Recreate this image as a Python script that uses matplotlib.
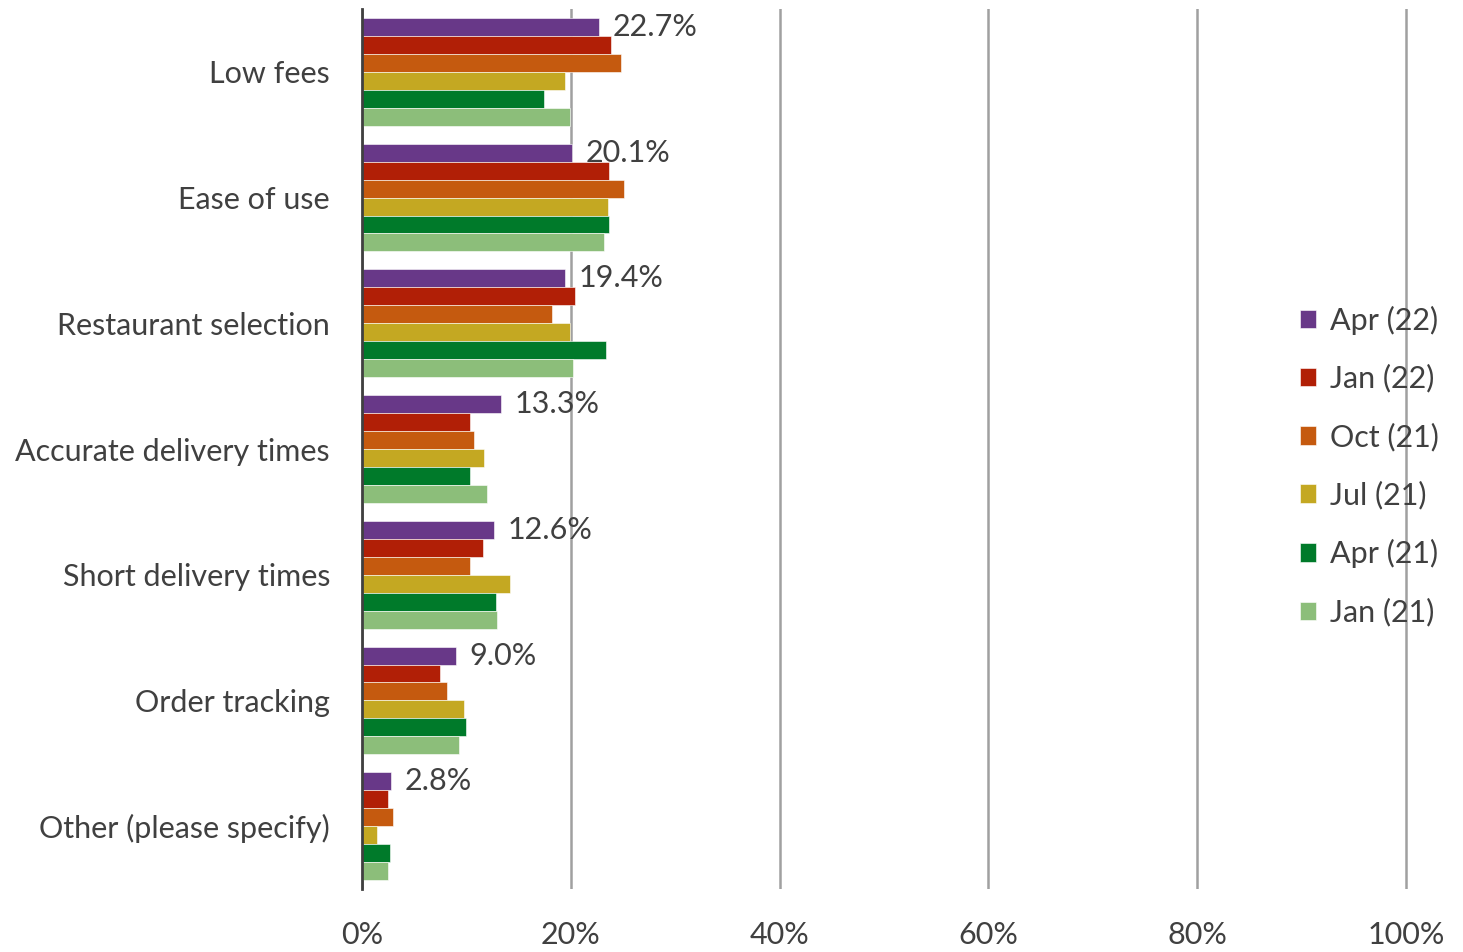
import numpy as np
import matplotlib
matplotlib.use('Agg')
import matplotlib.pyplot as plt

categories = ['Low fees', 'Ease of use', 'Restaurant selection', 'Accurate delivery times',
              'Short delivery times', 'Order tracking', 'Other (please specify)']
series = ['Apr (22)', 'Jan (22)', 'Oct (21)', 'Jul (21)', 'Apr (21)', 'Jan (21)']
apr22 = [22.7, 20.1, 19.4, 13.3, 12.6, 9.0, 2.8]
jan22 = [23.9, 23.7, 20.4, 10.3, 11.6, 7.5, 2.5]
oct21 = [24.8, 25.1, 18.2, 10.7, 10.3, 8.1, 3.0]
jul21 = [19.4, 23.6, 19.9, 11.7, 14.2, 9.8, 1.4]
apr21 = [17.4, 23.7, 23.4, 10.3, 12.8, 10.0, 2.7]
jan21 = [19.9, 23.2, 20.2, 12.0, 12.9, 9.3, 2.5]
colors = ['#683888', '#B11F06', '#C55A0F', '#C4A822', '#007A2A', '#8CBE7A']

values = [apr22, jan22, oct21, jul21, apr21, jan21]

plt.rcParams['font.family'] = ['Lato', 'DejaVu Sans']
txt = '#404040'
fs = 22

fig = plt.figure(figsize=(14.63, 9.52), dpi=100)
ax = fig.add_axes([362/1463, 1-889/952, (1408-362)/1463, 880/952])

y = np.arange(len(categories))
h = 1/7
for i, (vals, name, c) in enumerate(zip(values, series, colors)):
    pos = y - 2.5*h + i*h
    ax.barh(pos, vals, height=h, color=c, label=name, edgecolor='white', linewidth=0.4)
    if i == 0:
        for p, v in zip(pos, vals):
            ax.annotate(f'{v:.1f}%', (v, p), xytext=(10, 0), textcoords='offset points',
                        va='center', ha='left', fontsize=fs, color=txt)

ax.set_ylim(6.5, -0.5)
ax.set_xlim(0, 100.2)
ax.set_yticks(y)
ax.set_yticklabels(categories, fontsize=fs, color=txt)
ax.set_xticks([0, 20, 40, 60, 80, 100])
ax.set_xticklabels(['0%', '20%', '40%', '60%', '80%', '100%'], fontsize=fs, color=txt)
ax.tick_params(axis='both', length=0)
ax.tick_params(axis='x', pad=23)
ax.tick_params(axis='y', pad=23)
ax.xaxis.grid(True, color='#A0A0A0', linewidth=1.8)
ax.set_axisbelow(True)
for s in ['top', 'right', 'bottom']:
    ax.spines[s].set_visible(False)
ax.spines['left'].set_color('#404040')
ax.spines['left'].set_linewidth(2)
ax.spines['left'].set_zorder(5)

leg = fig.legend(loc='center left', bbox_to_anchor=(1272/1463, 1-466/952), frameon=False,
                 fontsize=fs, handlelength=0.55, handleheight=0.55, handletextpad=0.45,
                 labelspacing=0.97)
for t in leg.get_texts():
    t.set_color(txt)

fig.savefig('out.png', dpi=100)
